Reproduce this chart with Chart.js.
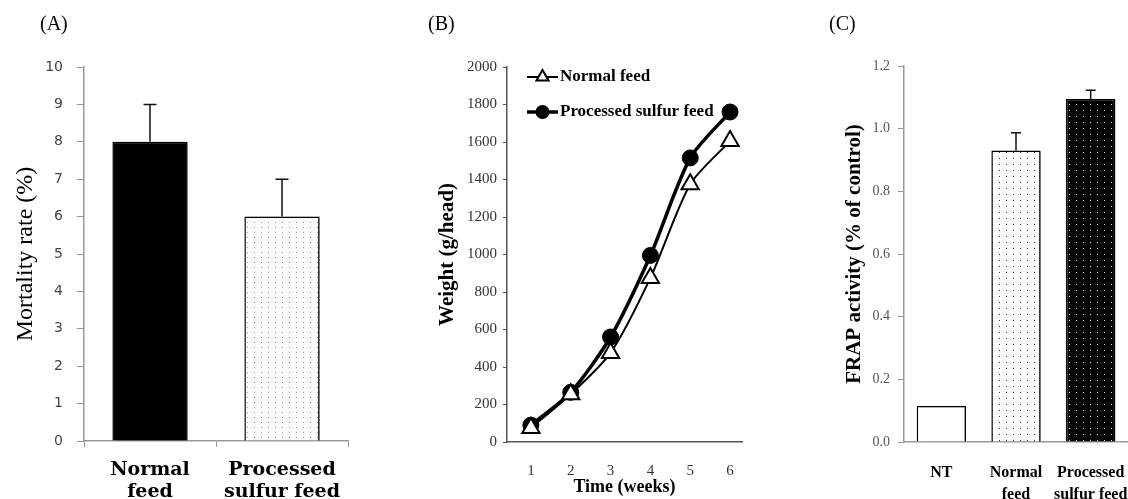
<!DOCTYPE html>
<html>
<head>
<meta charset="utf-8">
<title>Feed trial charts</title>
<script src="https://cdn.jsdelivr.net/npm/chart.js@4.4.1/dist/chart.umd.min.js"></script>
<style>
  html, body { margin: 0; padding: 0; background: #fff; }
  #page { position: relative; width: 1128px; height: 499px; overflow: hidden; }
  #page canvas { position: absolute; top: 0; }
  .tag { position: absolute; top: 12px; font: 20px 'Liberation Serif', serif; color: #000; }
</style>
</head>
<body>
<div id="page">
  <canvas id="chartA" width="380" height="499" style="left:0"></canvas>
  <canvas id="chartB" width="400" height="499" style="left:380px"></canvas>
  <canvas id="chartC" width="348" height="499" style="left:780px"></canvas>
  <div class="tag" style="left:40px">(A)</div>
  <div class="tag" style="left:428px">(B)</div>
  <div class="tag" style="left:829px">(C)</div>
</div>
<script>
// (A) mortality
const mortalityLabels = [['Normal', 'feed'], ['Processed', 'sulfur feed']];
const mortalityValues = [8, 6];
const mortalityErrors = [1, 1];

// (B) body weight by week
const weeks = [1, 2, 3, 4, 5, 6];
const weightNormal = [75, 255, 475, 875, 1375, 1605];
const weightSulfur = [90, 265, 560, 995, 1515, 1760];

// (C) FRAP activity
const frapLabels = ['NT', ['Normal', 'feed'], ['Processed', 'sulfur feed']];
const frapValues = [0.115, 0.93, 1.095];
const frapErrors = [0, 0.057, 0.028];

const SERIF = "'Liberation Serif', 'Times New Roman', serif";

/**
 * Small repeating dot texture, used for the stippled bars
 */
function dotPattern(bg, dot, dx, dy) {
    const c = document.createElement('canvas');
    c.width = dx;
    c.height = dy;
    const g = c.getContext('2d');
    g.fillStyle = bg;
    g.fillRect(0, 0, dx, dy);
    g.fillStyle = dot;
    g.fillRect(2, 2, 1, 1);
    return g.createPattern(c, 'repeat');
}

// soft drop shadow on the right of each bar
const barShadow = {
    id: 'barShadow',
    beforeDatasetsDraw(chart) {
        const ctx = chart.ctx;
        ctx.save();
        ctx.shadowColor = 'rgba(0,0,0,0.35)';
        ctx.shadowOffsetX = 4;
        ctx.shadowOffsetY = 1;
        ctx.shadowBlur = 3;
    },
    afterDatasetsDraw(chart) {
        chart.ctx.restore();
    }
};

// upper-only error bars, errors kept on the dataset
const errorBars = {
    id: 'errorBars',
    afterDatasetsDraw(chart) {
        const ctx = chart.ctx;
        const yScale = chart.scales.y;
        chart.data.datasets.forEach((ds, i) => {
            if (!ds.errors) return;
            chart.getDatasetMeta(i).data.forEach((bar, j) => {
                const err = ds.errors[j];
                if (!err) return;
                const top = yScale.getPixelForValue(ds.data[j] + err);
                const half = ds.capWidth / 2;
                ctx.save();
                ctx.strokeStyle = '#111';
                ctx.lineWidth = 1.5;
                ctx.beginPath();
                ctx.moveTo(bar.x, bar.y);
                ctx.lineTo(bar.x, top);
                ctx.moveTo(bar.x - half, top);
                ctx.lineTo(bar.x + half, top);
                ctx.stroke();
                ctx.restore();
            });
        });
    }
};

// legend drawn inside the plot, line sample with the marker in its middle
const insideLegend = {
    id: 'insideLegend',
    afterDraw(chart) {
        const ctx = chart.ctx;
        const area = chart.chartArea;
        chart.data.datasets.forEach((ds, i) => {
            const y = area.top + 10 + i * 35;
            const x0 = area.left + 20;
            const x1 = area.left + 51;
            ctx.save();
            ctx.strokeStyle = ds.borderColor;
            ctx.lineWidth = ds.borderWidth;
            ctx.beginPath();
            ctx.moveTo(x0, y);
            ctx.lineTo(x1, y);
            ctx.stroke();
            ctx.fillStyle = ds.pointBackgroundColor;
            ctx.strokeStyle = ds.pointBorderColor;
            ctx.lineWidth = 2;
            Chart.helpers.drawPoint(ctx, {
                pointStyle: ds.pointStyle,
                radius: ds.pointStyle === 'triangle' ? 7 : 6,
                rotation: 0,
                borderWidth: 2
            }, (x0 + x1) / 2, y);
            ctx.fillStyle = '#000';
            ctx.font = 'bold 17px ' + SERIF;
            ctx.textBaseline = 'middle';
            ctx.fillText(ds.label, x1 + 2, y);
            ctx.restore();
        });
    }
};

function renderMortalityChart() {
    new Chart(document.getElementById('chartA'), {
        type: 'bar',
        data: {
            labels: mortalityLabels,
            datasets: [{
                data: mortalityValues,
                errors: mortalityErrors,
                capWidth: 13,
                backgroundColor: ['#000', dotPattern('#fbfbfb', '#9a9a9a', 7, 5)],
                borderColor: '#000',
                borderWidth: 1.5,
                categoryPercentage: 1,
                barPercentage: 0.57
            }]
        },
        options: {
            responsive: false,
            animation: false,
            layout: { padding: { top: 67, right: 32, left: 0, bottom: 0 } },
            plugins: { legend: { display: false }, tooltip: { enabled: false } },
            scales: {
                x: {
                    grid: { drawOnChartArea: false, tickLength: 6, color: '#999' },
                    border: { color: '#999', width: 1.5 },
                    ticks: {
                        color: '#000', padding: 12, maxRotation: 0, autoSkip: false,
                        font: { family: "'DejaVu Serif', serif", weight: 'bold', size: 19, lineHeight: 1.15 }
                    },
                    afterFit: s => { s.height = 58; }
                },
                y: {
                    min: 0, max: 10,
                    ticks: { stepSize: 1, color: '#444', padding: 14, font: { family: "'DejaVu Sans', sans-serif", size: 14 } },
                    grid: { drawOnChartArea: false, tickLength: 7, color: '#999' },
                    border: { color: '#999', width: 1.5 },
                    title: {
                        display: true, text: 'Mortality rate (%)', color: '#000',
                        font: { family: SERIF, size: 24 }, padding: { top: 11, bottom: 0 }
                    },
                    afterFit: s => { s.width = 84; }
                }
            }
        },
        plugins: [barShadow, errorBars]
    });
}

function renderWeightChart() {
    new Chart(document.getElementById('chartB'), {
        type: 'line',
        data: {
            datasets: [
                {
                    label: 'Normal feed',
                    data: weeks.map((w, i) => ({ x: w, y: weightNormal[i] })),
                    borderColor: '#000',
                    borderWidth: 2,
                    pointStyle: 'triangle',
                    pointRadius: 10,
                    pointBackgroundColor: '#fff',
                    pointBorderColor: '#000',
                    pointBorderWidth: 2,
                    tension: 0.25
                },
                {
                    label: 'Processed sulfur feed',
                    data: weeks.map((w, i) => ({ x: w, y: weightSulfur[i] })),
                    borderColor: '#000',
                    borderWidth: 3.5,
                    pointStyle: 'circle',
                    pointRadius: 8,
                    pointBackgroundColor: '#000',
                    pointBorderColor: '#000',
                    pointBorderWidth: 1,
                    tension: 0.25
                }
            ]
        },
        options: {
            responsive: false,
            animation: false,
            layout: { padding: { top: 67, right: 38, left: 0, bottom: 0 } },
            plugins: { legend: { display: false }, tooltip: { enabled: false } },
            scales: {
                x: {
                    type: 'linear', min: 0.4, max: 6.3,
                    afterBuildTicks: s => { s.ticks = weeks.map(v => ({ value: v })); },
                    grid: { display: false },
                    border: { color: '#555', width: 1.5 },
                    ticks: { color: '#333', padding: 12, font: { family: SERIF, size: 15 }, callback: v => String(v) },
                    title: {
                        display: true, text: 'Time (weeks)', color: '#000',
                        font: { family: SERIF, size: 18, weight: 'bold' }, padding: { top: 0, bottom: 1 }
                    },
                    afterFit: s => { s.height = 57; }
                },
                y: {
                    min: 0, max: 2000,
                    ticks: { stepSize: 200, color: '#333', padding: 6, font: { family: SERIF, size: 15 }, callback: v => String(v) },
                    grid: { drawOnChartArea: false, tickLength: 4, color: '#555' },
                    border: { color: '#555', width: 1.5 },
                    title: {
                        display: true, text: 'Weight (g/head)', color: '#000',
                        font: { family: SERIF, size: 21, weight: 'bold' }, padding: { top: 55, bottom: 0 }
                    },
                    afterFit: s => { s.width = 127; }
                }
            }
        },
        plugins: [insideLegend]
    });
}

function renderFrapChart() {
    new Chart(document.getElementById('chartC'), {
        type: 'bar',
        data: {
            labels: frapLabels,
            datasets: [{
                data: frapValues,
                errors: frapErrors,
                capWidth: 10,
                backgroundColor: ['#fff', dotPattern('#fff', '#333', 7, 6), dotPattern('#000', '#ddd', 7, 6)],
                borderColor: '#000',
                borderWidth: 1.5,
                categoryPercentage: 1,
                barPercentage: 0.66
            }]
        },
        options: {
            responsive: false,
            animation: false,
            layout: { padding: { top: 66, right: 0, left: 0, bottom: 0 } },
            plugins: { legend: { display: false }, tooltip: { enabled: false } },
            scales: {
                x: {
                    grid: { display: false },
                    border: { color: '#999', width: 1.5 },
                    ticks: {
                        color: '#000', padding: 12, maxRotation: 0, minRotation: 0, autoSkip: false,
                        font: { family: SERIF, weight: 'bold', size: 16, lineHeight: 1.35 }
                    },
                    afterFit: s => { s.height = 57; s.paddingLeft = 0; s.paddingRight = 0; }
                },
                y: {
                    min: 0, max: 1.2,
                    ticks: {
                        stepSize: 0.2, color: '#555', padding: 8,
                        font: { family: SERIF, size: 14 },
                        callback: v => v.toFixed(1)
                    },
                    grid: { drawOnChartArea: false, tickLength: 6, color: '#999' },
                    border: { color: '#999', width: 1.5 },
                    title: {
                        display: true, text: 'FRAP activity (% of control)', color: '#000',
                        font: { family: SERIF, size: 21, weight: 'bold' }, padding: { top: 62, bottom: 0 }
                    },
                    afterFit: s => { s.width = 124; }
                }
            }
        },
        plugins: [barShadow, errorBars]
    });
}

renderMortalityChart();
renderWeightChart();
renderFrapChart();
</script>
</body>
</html>
